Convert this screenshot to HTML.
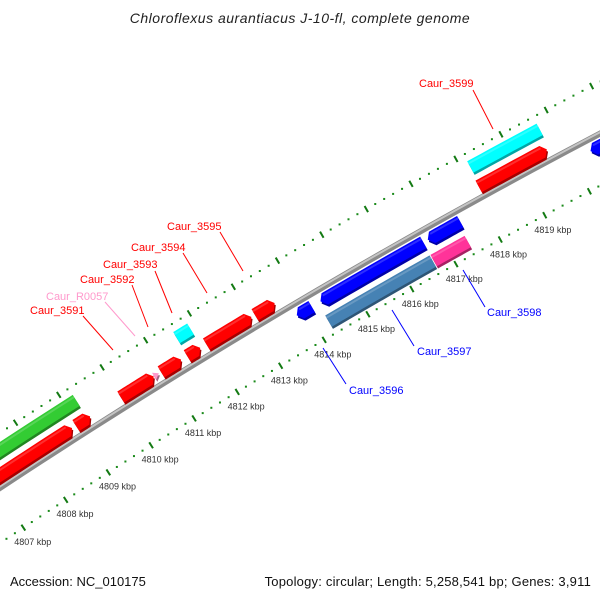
<!DOCTYPE html>
<html><head><meta charset="utf-8">
<style>
html,body{margin:0;padding:0;background:#fff;}
svg{display:block;font-family:"Liberation Sans",sans-serif;}
</style></head>
<body>
<svg id="map" width="600" height="600" viewBox="0 0 600 600" xmlns="http://www.w3.org/2000/svg">
<rect width="600" height="600" fill="#fff"/>
<text x="300" y="23" text-anchor="middle" font-size="14" letter-spacing="0.5" font-style="italic" fill="#222">Chloroflexus aurantiacus J-10-fl, complete genome</text>
<g id="ticks"></g>
<g id="backbone"></g>
<g id="feats"></g>
<g font-size="11">
  <line x1="473" y1="90" x2="493" y2="129" stroke="#ff0000"/>
  <text x="419" y="87" fill="#ff0000">Caur_3599</text>
  <line x1="220" y1="232" x2="243" y2="271" stroke="#ff0000"/>
  <text x="167" y="230" fill="#ff0000">Caur_3595</text>
  <line x1="183" y1="253" x2="207" y2="293" stroke="#ff0000"/>
  <text x="131" y="251" fill="#ff0000">Caur_3594</text>
  <line x1="155" y1="271" x2="172" y2="313" stroke="#ff0000"/>
  <text x="103" y="268" fill="#ff0000">Caur_3593</text>
  <line x1="132" y1="285" x2="148" y2="327" stroke="#ff0000"/>
  <text x="80" y="283" fill="#ff0000">Caur_3592</text>
  <line x1="105" y1="302" x2="135" y2="336" stroke="#ff99cc"/>
  <text x="46" y="300" fill="#ff99cc">Caur_R0057</text>
  <line x1="83" y1="316" x2="113" y2="350" stroke="#ff0000"/>
  <text x="30" y="314" fill="#ff0000">Caur_3591</text>
  <line x1="323" y1="348" x2="346" y2="384" stroke="#0000ff"/>
  <text x="349" y="394" fill="#0000ff">Caur_3596</text>
  <line x1="392" y1="310" x2="414" y2="346" stroke="#0000ff"/>
  <text x="417" y="355" fill="#0000ff">Caur_3597</text>
  <line x1="463" y1="270" x2="485" y2="307" stroke="#0000ff"/>
  <text x="487" y="316" fill="#0000ff">Caur_3598</text>
</g>
<text x="10" y="586" font-size="13" fill="#111">Accession: NC_010175</text>
<text x="591" y="586" font-size="13" letter-spacing="0.2" fill="#111" text-anchor="end">Topology: circular; Length: 5,258,541 bp; Genes: 3,911</text>
</svg>
<script>
// Feature data (kbp)
const featStart = [4805.8, 4808.96, 4810.00, 4810.77, 4810.93, 4811.53, 4811.97, 4813.08, 4818.13, 4805.8, 4811.54, 4818.17, 4813.78, 4814.32, 4816.75, 4820.39, 4814.26, 4816.65];
const featEnd   = [4808.87, 4809.29, 4810.76, 4810.88, 4811.39, 4811.83, 4813.00, 4813.53, 4819.65, 4809.23, 4811.86, 4819.71, 4814.12, 4816.65, 4817.48, 4821.9, 4816.63, 4817.42];
const featStrand = [1,1,1,1,1,1,1,1,1,1,1,1,-1,-1,-1,-1,-1,-1];
const featSlot   = [1,1,1,1,1,1,1,1,1,2,2,2,1,1,1,1,2,2];
const featColor  = ["#ff0000","#ff0000","#ff0000","#ff99cc","#ff0000","#ff0000","#ff0000","#ff0000","#ff0000","#33cc33","#00ffff","#00ffff","#0000ff","#0000ff","#0000ff","#0000ff","#4682b4","#ff3399"];
const featArrow  = [1,1,1,1,1,1,1,1,1,0,0,0,1,1,1,1,0,0];
const featName   = ["cds-left","cds-left-small","caur-3591","caur-r0057","caur-3592","caur-3594","caur-3595","cds-unlabeled","cds-3599","green-feature","caur-3593","caur-3599","caur-3596","rev-cds-long","rev-cds-short","rev-cds-right","caur-3597","caur-3598"];
// Scale
const tickMin = 4805, tickMax = 4822;
const tickLabelKb = [4807,4808,4809,4810,4811,4812,4813,4814,4815,4816,4817,4818,4819];

const NS="http://www.w3.org/2000/svg";
const RC=7000, S=8, C=0.8613, SN=0.5082, PXKB=51;
function P(kb, off){
  const u=(kb-4807)*PXKB-3;
  const th=(u-350)/RC, r=RC+off;
  const fu=350+r*Math.sin(th), fv=(RC-S)-r*Math.cos(th);
  return [fu*C+fv*SN, 487-fu*SN+fv*C];
}
function mk(tag, attrs, parent){
  const e=document.createElementNS(NS,tag);
  for(const k in attrs) e.setAttribute(k, attrs[k]);
  parent.appendChild(e); return e;
}
function arcPts(k1,k2,off,n){
  const pts=[]; for(let i=0;i<=n;i++){pts.push(P(k1+(k2-k1)*i/n,off));} return pts;
}
function shade(hex,f){
  const n=parseInt(hex.slice(1),16); let r=(n>>16)&255,g=(n>>8)&255,b=n&255;
  if(f<0){r=Math.round(r*(1+f));g=Math.round(g*(1+f));b=Math.round(b*(1+f));}
  else{r=Math.round(r+(255-r)*f);g=Math.round(g+(255-g)*f);b=Math.round(b+(255-b)*f);}
  return "rgb("+r+","+g+","+b+")";
}
// ticks
const tg=document.getElementById('ticks');
for(const ring of [46,-46]){
  for(let i=Math.round(tickMin*5); i<=tickMax*5; i++){
    const kb=i/5;
    if(i%5===0){
      const a=P(kb,ring+3.5), b=P(kb,ring-3.5);
      const l=mk('line',{x1:a[0],y1:a[1],x2:b[0],y2:b[1],stroke:'#137a13','stroke-width':2},tg);
      
      
    } else {
      const p=P(kb,ring);
      const d=mk('rect',{x:p[0]-1,y:p[1]-1,width:2,height:2,fill:'#1a8a1a'},tg);
      
      
    }
  }
}
tickLabelKb.forEach(kb=>{
  const p=P(kb,-63);
  const t=mk('text',{x:p[0],y:p[1]+3,'text-anchor':'middle','font-size':9,fill:'#333'},tg);
  t.textContent=kb+" kbp";
  
  
});
// backbone
const bg=document.getElementById('backbone');
const bb=arcPts(4806,4822,0,40).map(p=>p.join(',')).join(' ');
const b1=mk('polyline',{points:bb,fill:'none',stroke:'#8a8a8a','stroke-width':6},bg);


const bb2=arcPts(4806,4822,1.2,40).map(p=>p.join(',')).join(' ');
const b2=mk('polyline',{points:bb2,fill:'none',stroke:'#c4c4c4','stroke-width':2},bg);


// features
const fg=document.getElementById('feats');
for(let i=0;i<featStart.length;i++){
  const s=featStart[i], e=featEnd[i], st=featStrand[i];
  const center=st*(featSlot[i]===1?11:32);
  const h=featColor[i]==="#ff99cc"?4:6.5;
  const ah=5/PXKB;
  let pts;
  if(featArrow[i] && (e-s)>ah*1.2){
    if(st>0){
      pts=arcPts(s,e-ah,center+h,10).concat([P(e,center)]).concat(arcPts(e-ah,s,center-h,10));
    } else {
      pts=[P(s,center)].concat(arcPts(s+ah,e,center+h,10)).concat(arcPts(e,s+ah,center-h,10));
    }
  } else if(featArrow[i]){
    pts=[P(s,center+h),P(e,center),P(s,center-h)];
  } else {
    pts=arcPts(s,e,center+h,10).concat(arcPts(e,s,center-h,10));
  }
  const str=pts.map(p=>p.join(',')).join(' ');
  const g=mk('g',{},fg);
  
  
  mk('polygon',{points:str,fill:shade(featColor[i],-0.35),transform:'translate(1.2,2.2)'},g);
  mk('polygon',{points:str,fill:featColor[i]},g);
  const a0=s+(st<0&&featArrow[i]?ah:0), a1=e-(st>0&&featArrow[i]?ah:0);
  const hl=arcPts(a0,a1,center+h-1.5,8).concat(arcPts(a1,a0,center+h-3.5,8));
  if(e-s>ah*1.5) mk('polygon',{points:hl.map(p=>p.join(',')).join(' '),fill:shade(featColor[i],0.3),opacity:0.6},g);
}
</script>
</body></html>
